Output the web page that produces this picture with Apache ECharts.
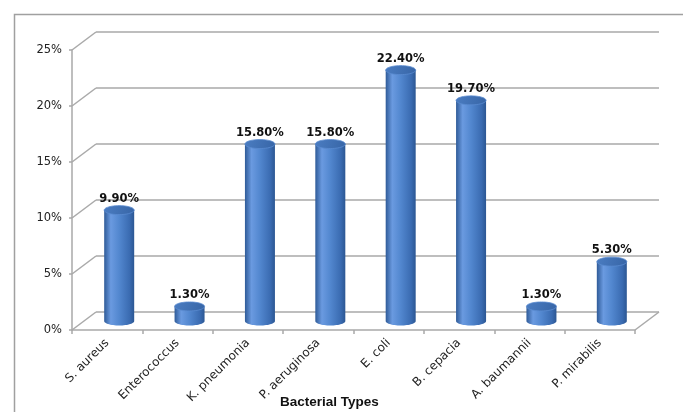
<!DOCTYPE html>
<html>
<head>
<meta charset="utf-8">
<title>Bacterial Types</title>
<script src="https://cdn.jsdelivr.net/npm/echarts@6/dist/echarts.min.js"></script>
<style>
  html, body { margin: 0; padding: 0; background: #ffffff; }
  #chart { width: 683px; height: 412px; }
</style>
</head>
<body>
<div id="chart"></div>
<script>
// Share of isolates per bacterial type (%)
const categories = ['S. aureus', 'Enterococcus', 'K. pneumonia', 'P. aeruginosa', 'E. coli', 'B. cepacia', 'A. baumannii', 'P. mirabilis'];
const percentages = [9.9, 1.3, 15.8, 15.8, 22.4, 19.7, 1.3, 5.3];
const yTicks = [0, 5, 10, 15, 20, 25];
const axisTitle = 'Bacterial Types';

// Perspective offset between the front plane and the back wall
const DEPTH_X = 24;
const DEPTH_Y = -18;
const GRID_COLOR = '#a9a9a9';
const FONT = '"DejaVu Sans", Verdana, sans-serif';

const chart = echarts.init(document.getElementById('chart'), null, { renderer: 'canvas' });

// Points along an ellipse between two angles (screen y grows downward)
function ellipsePoints(cx, cy, rx, ry, from, to, steps) {
  const pts = [];
  for (let k = 0; k <= steps; k++) {
    const t = from + (to - from) * k / steps;
    pts.push([cx + rx * Math.cos(t), cy + ry * Math.sin(t)]);
  }
  return pts;
}

// Diagonal wall/floor edges joining the front axis to the back wall
function renderEdges(params, api) {
  const cs = params.coordSys;
  const y = api.coord([0, api.value(0)])[1];
  const children = [{
    type: 'line',
    shape: { x1: cs.x, y1: y, x2: cs.x + DEPTH_X, y2: y + DEPTH_Y },
    style: { stroke: GRID_COLOR, lineWidth: 1.5 }
  }];
  if (api.value(0) === 0) {
    children.push({
      type: 'line',
      shape: { x1: cs.x + cs.width, y1: y, x2: cs.x + cs.width + DEPTH_X, y2: y + DEPTH_Y },
      style: { stroke: GRID_COLOR, lineWidth: 1.5 }
    });
  }
  return { type: 'group', children: children };
}

// Cylinder bars standing halfway into the depth of the floor
function renderCylinder(params, api) {
  const idx = api.value(0);
  const val = api.value(1);
  const top = api.coord([idx, val]);
  const base = api.coord([idx, 0]);
  const cx = top[0] + DEPTH_X / 2;
  const yTop = top[1] + DEPTH_Y / 2;
  const yBase = base[1] + DEPTH_Y / 2;
  const rx = 15, ry = 4.5;

  // side wall: left edge down, lower front arc of the base, right edge up
  const body = [[cx - rx, yTop]]
    .concat(ellipsePoints(cx, yBase, rx, ry, Math.PI, 0, 30))
    .concat([[cx + rx, yTop]]);

  const bodyFill = new echarts.graphic.LinearGradient(0, 0, 1, 0, [
    { offset: 0, color: '#2f5b98' },
    { offset: 0.22, color: '#6a9ae0' },
    { offset: 0.5, color: '#5287cf' },
    { offset: 0.85, color: '#3a6bb1' },
    { offset: 1, color: '#2c5793' }
  ]);
  const topFill = new echarts.graphic.LinearGradient(0, 0, 1, 1, [
    { offset: 0, color: '#4b7dc2' },
    { offset: 1, color: '#3765a6' }
  ]);

  return {
    type: 'group',
    children: [
      { type: 'polygon', shape: { points: body }, style: { fill: bodyFill } },
      {
        type: 'polygon',
        shape: { points: ellipsePoints(cx, yTop, rx, ry, 0, Math.PI * 2, 48) },
        style: { fill: topFill, stroke: '#5a8bd0', lineWidth: 0.8 }
      },
      {
        type: 'text',
        x: cx, y: yTop - ry - 1,
        style: {
          text: val.toFixed(2) + '%',
          align: 'center', verticalAlign: 'bottom',
          fill: '#111111',
          font: 'bold 11.5px ' + FONT
        }
      }
    ]
  };
}

const option = {
  animation: false,
  backgroundColor: '#ffffff',
  graphic: [{
    type: 'rect',
    left: 12, top: 12,
    shape: { width: 700, height: 420 },
    style: { fill: 'none', stroke: '#a0a0a0', lineWidth: 1.5 }
  }],
  title: {
    text: axisTitle,
    left: 280, top: 395,
    padding: 0,
    textStyle: { fontFamily: '"Liberation Sans", Arial, sans-serif', fontWeight: 'bold', fontSize: 13.5, color: '#111111' }
  },
  grid: [
    { left: 72, right: 48, top: 50, bottom: 82 },
    { left: 96, right: 24, top: 32, bottom: 100 }
  ],
  xAxis: [{
    gridIndex: 0,
    type: 'category',
    data: categories,
    boundaryGap: true,
    axisLine: { lineStyle: { color: GRID_COLOR, width: 1.5 } },
    axisTick: { show: true, interval: 0, length: 4, lineStyle: { color: GRID_COLOR, width: 1.5 } },
    axisLabel: {
      interval: 0, rotate: 45, margin: 11,
      color: '#222222', fontSize: 12, fontFamily: FONT
    },
    splitLine: { show: false }
  }, {
    gridIndex: 1,
    type: 'category',
    data: categories,
    show: false
  }],
  yAxis: [{
    gridIndex: 0,
    type: 'value',
    min: yTicks[0], max: yTicks[yTicks.length - 1], interval: 5,
    axisLine: { show: true, lineStyle: { color: GRID_COLOR, width: 1.5 } },
    axisTick: { show: true, length: 3, lineStyle: { color: GRID_COLOR, width: 1.5 } },
    axisLabel: { formatter: '{value}%', color: '#222222', fontSize: 11.5, fontFamily: FONT, margin: 10 },
    splitLine: { show: false }
  }, {
    gridIndex: 1,
    type: 'value',
    min: yTicks[0], max: yTicks[yTicks.length - 1], interval: 5,
    axisLine: { show: false },
    axisTick: { show: false },
    axisLabel: { show: false },
    splitLine: { show: true, lineStyle: { color: GRID_COLOR, width: 1.5 } }
  }],
  series: [{
    name: 'edges',
    type: 'custom',
    xAxisIndex: 0, yAxisIndex: 0,
    renderItem: renderEdges,
    data: yTicks.map(function (t) { return [t]; }),
    encode: { y: 0 },
    silent: true,
    z: 1
  }, {
    name: 'Bacterial Types',
    type: 'custom',
    xAxisIndex: 0, yAxisIndex: 0,
    renderItem: renderCylinder,
    data: percentages.map(function (v, i) { return [i, v]; }),
    encode: { x: 0, y: 1 },
    z: 3
  }]
};

chart.setOption(option);
</script>
</body>
</html>
